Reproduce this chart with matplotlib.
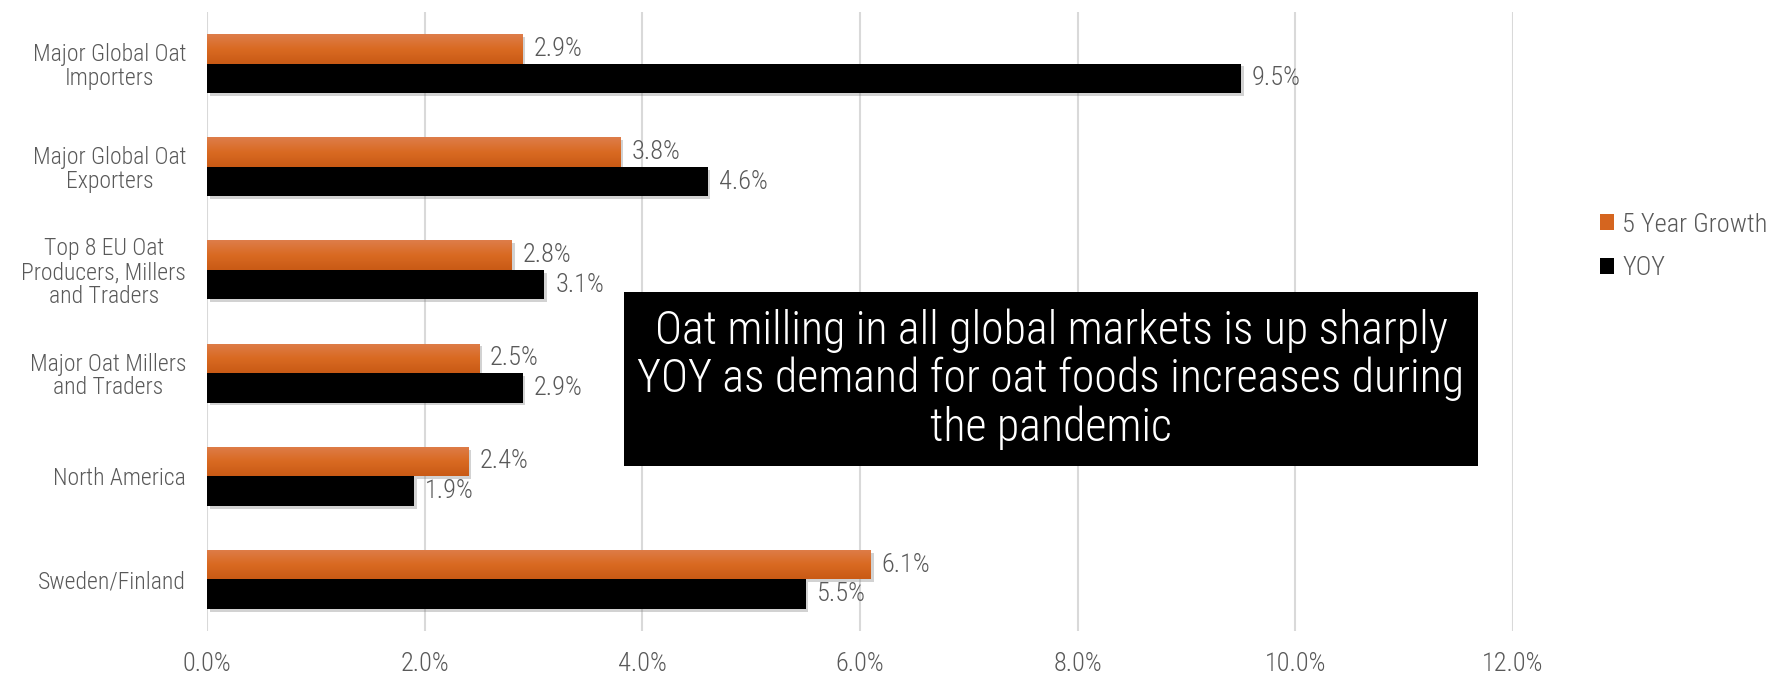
import numpy as np
import matplotlib.pyplot as plt
import matplotlib.patheffects as pe
from matplotlib.patches import Rectangle
from matplotlib.ticker import FuncFormatter
from matplotlib.colors import LinearSegmentedColormap

plt.rcParams['font.family'] = ['Roboto Condensed', 'DejaVu Sans']
plt.rcParams['font.weight'] = 'light'

# oat milling growth by market group
categories = ['Major Global Oat\nImporters', 'Major Global Oat\nExporters',
              'Top 8 EU Oat\nProducers, Millers\nand Traders', 'Major Oat Millers\nand Traders',
              'North America', 'Sweden/Finland']
growth_5yr = [2.9, 3.8, 2.8, 2.5, 2.4, 6.1]
growth_yoy = [9.5, 4.6, 3.1, 2.9, 1.9, 5.5]
series_names = ['5 Year Growth', 'YOY']
note = 'Oat milling in all global markets is up sharply\nYOY as demand for oat foods increases during\nthe pandemic'

grey = '#595959'
orange = '#D5651F'

fig = plt.figure(figsize=(17.79, 6.77), dpi=100)
ax = fig.add_axes([0.1164, 0.068, 0.7341, 0.9142])

y = np.arange(len(categories))
h = 0.286
shadow = [pe.SimplePatchShadow(offset=(2, -2), shadow_rgbFace='#808080', alpha=0.35), pe.Normal()]

bars_o = ax.barh(y - h / 2, growth_5yr, height=h, color=orange, label=series_names[0],
                 path_effects=shadow, zorder=3)
bars_k = ax.barh(y + h / 2, growth_yoy, height=h, color='black', label=series_names[1],
                 path_effects=shadow, zorder=3)

# vertical shading on the orange bars
grad = LinearSegmentedColormap.from_list('og', ['#DE7D4A', '#D96A22', '#C95A15'])
g = np.linspace(0, 1, 64).reshape(-1, 1)
for b in bars_o:
    x0, y0 = b.get_x(), b.get_y()
    im = ax.imshow(g, cmap=grad, aspect='auto', zorder=3.5,
                   extent=[x0, x0 + b.get_width(), y0 + b.get_height(), y0])
    im.set_clip_path(b)

for b, v in zip(bars_o, growth_5yr):
    ax.text(v + 0.1, b.get_y() + b.get_height() / 2, f'{v:.1f}%', va='center', ha='left',
            fontsize=19, color=grey, zorder=4)
for b, v in zip(bars_k, growth_yoy):
    ax.text(v + 0.1, b.get_y() + b.get_height() / 2, f'{v:.1f}%', va='center', ha='left',
            fontsize=19, color=grey, zorder=4)

ax.set_xlim(0, 12)
ax.set_ylim(len(categories) - 0.5, -0.5)
ax.set_xticks(np.arange(0, 13, 2))
ax.xaxis.set_major_formatter(FuncFormatter(lambda v, p: f'{v:.1f}%'))
ax.set_yticks(y)
ax.set_yticklabels(categories, multialignment='center', linespacing=1.05)
ax.tick_params(axis='both', length=0, colors=grey)
ax.tick_params(axis='x', labelsize=19, pad=15)
ax.tick_params(axis='y', labelsize=17, pad=15)
ax.grid(axis='x', color='#D9D9D9', linewidth=1.5, zorder=0)
ax.set_axisbelow(True)
for s in ax.spines.values():
    s.set_visible(False)

leg = fig.legend(loc='center left', bbox_to_anchor=(0.886, 0.636), frameon=False,
                 fontsize=19, handlelength=0.55, handleheight=0.55, handletextpad=0.3,
                 labelspacing=0.75)
for t in leg.get_texts():
    t.set_color(grey)
for hnd in leg.legend_handles:
    hnd.set_path_effects([])

# callout box
fig.patches.append(Rectangle((0.3508, 0.3117), 0.48, 0.257, transform=fig.transFigure,
                             facecolor='black', edgecolor='none', zorder=5))
fig.text(0.5908, 0.440, note, ha='center', va='center', color='white', fontsize=33,
         linespacing=1.12, zorder=6)

fig.savefig('out.png', dpi=100)
